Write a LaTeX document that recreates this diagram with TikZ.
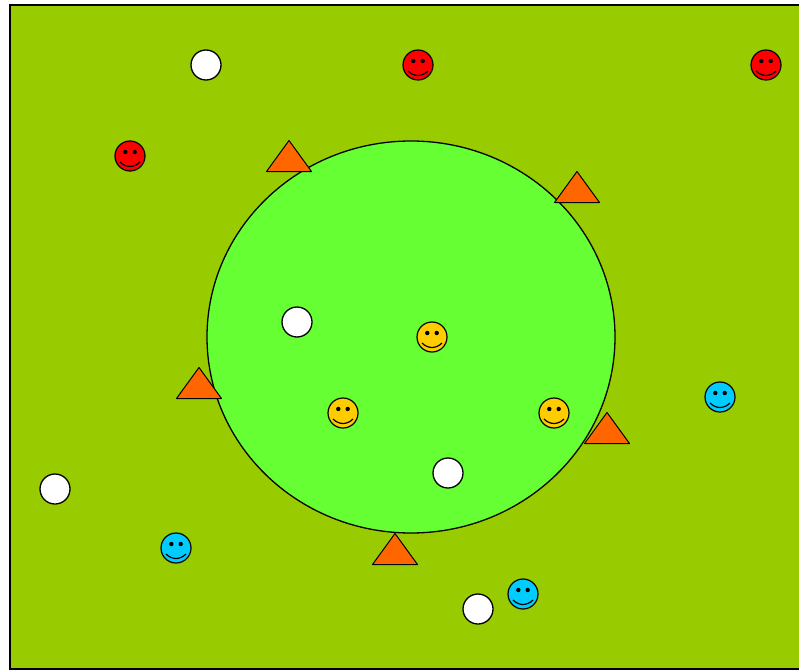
\documentclass[tikz,border=0pt]{standalone}
\usepackage{tikz}

\begin{document}
\begin{tikzpicture}[
    x=1pt, y=-1pt,
    field/.style={draw=black, fill=fieldgreen, line width=1.4pt},
    ring/.style={draw=black, fill=ringgreen, line width=1.3pt},
    ball/.style={draw=black, fill=white, line width=1.3pt},
    cone/.style={draw=black, fill=coneorange, line width=1pt, line join=round},
    face/.style={draw=black, line width=1.2pt},
    smiley/.pic={
      \draw[face, fill=#1] (0,0) circle (15);
      \fill (-4.7,-4) circle (2.2) (4.7,-4) circle (2.2);
      \draw[face] (-10,6) .. controls (-4,12) and (4,12) .. (10,6);
    },
    marker/.pic={
      \draw[cone] (0,-15.5) -- (22.5,15.5) -- (-22.5,15.5) -- cycle;
    },
  ]
    \definecolor{fieldgreen}{HTML}{99CC00}
    \definecolor{ringgreen}{HTML}{66FF33}
    \definecolor{coneorange}{HTML}{FF6600}
    \definecolor{redface}{HTML}{FF0000}
    \definecolor{yellowface}{HTML}{FFCC00}
    \definecolor{cyanface}{HTML}{00CCFF}

    \useasboundingbox (0,0) rectangle (799,671);
    \clip (0,0) rectangle (799,671);

    % ── Field and centre circle ─────────────────
    \draw[field] (10,5) rectangle (830,669);
    \draw[ring] (411,337) ellipse (204 and 196);

    % ── Cones ────────────────────────────────────
    \pic at (289,156) {marker};
    \pic at (577,187) {marker};
    \pic at (199,383) {marker};
    \pic at (607,428) {marker};
    \pic at (395,549) {marker};

    % ── Balls ────────────────────────────────────
    \draw[ball] (206,65) circle (15);
    \draw[ball] (297,322) circle (15);
    \draw[ball] (448,473) circle (15);
    \draw[ball] (55,489) circle (15);
    \draw[ball] (478,609) circle (15);

    % ── Players ──────────────────────────────────
    \pic at (418,65) {smiley=redface};
    \pic at (766,65) {smiley=redface};
    \pic at (130,156) {smiley=redface};
    \pic at (432,337) {smiley=yellowface};
    \pic at (343,413) {smiley=yellowface};
    \pic at (554,413) {smiley=yellowface};
    \pic at (720,397) {smiley=cyanface};
    \pic at (176,548) {smiley=cyanface};
    \pic at (523,594) {smiley=cyanface};
\end{tikzpicture}
\end{document}
